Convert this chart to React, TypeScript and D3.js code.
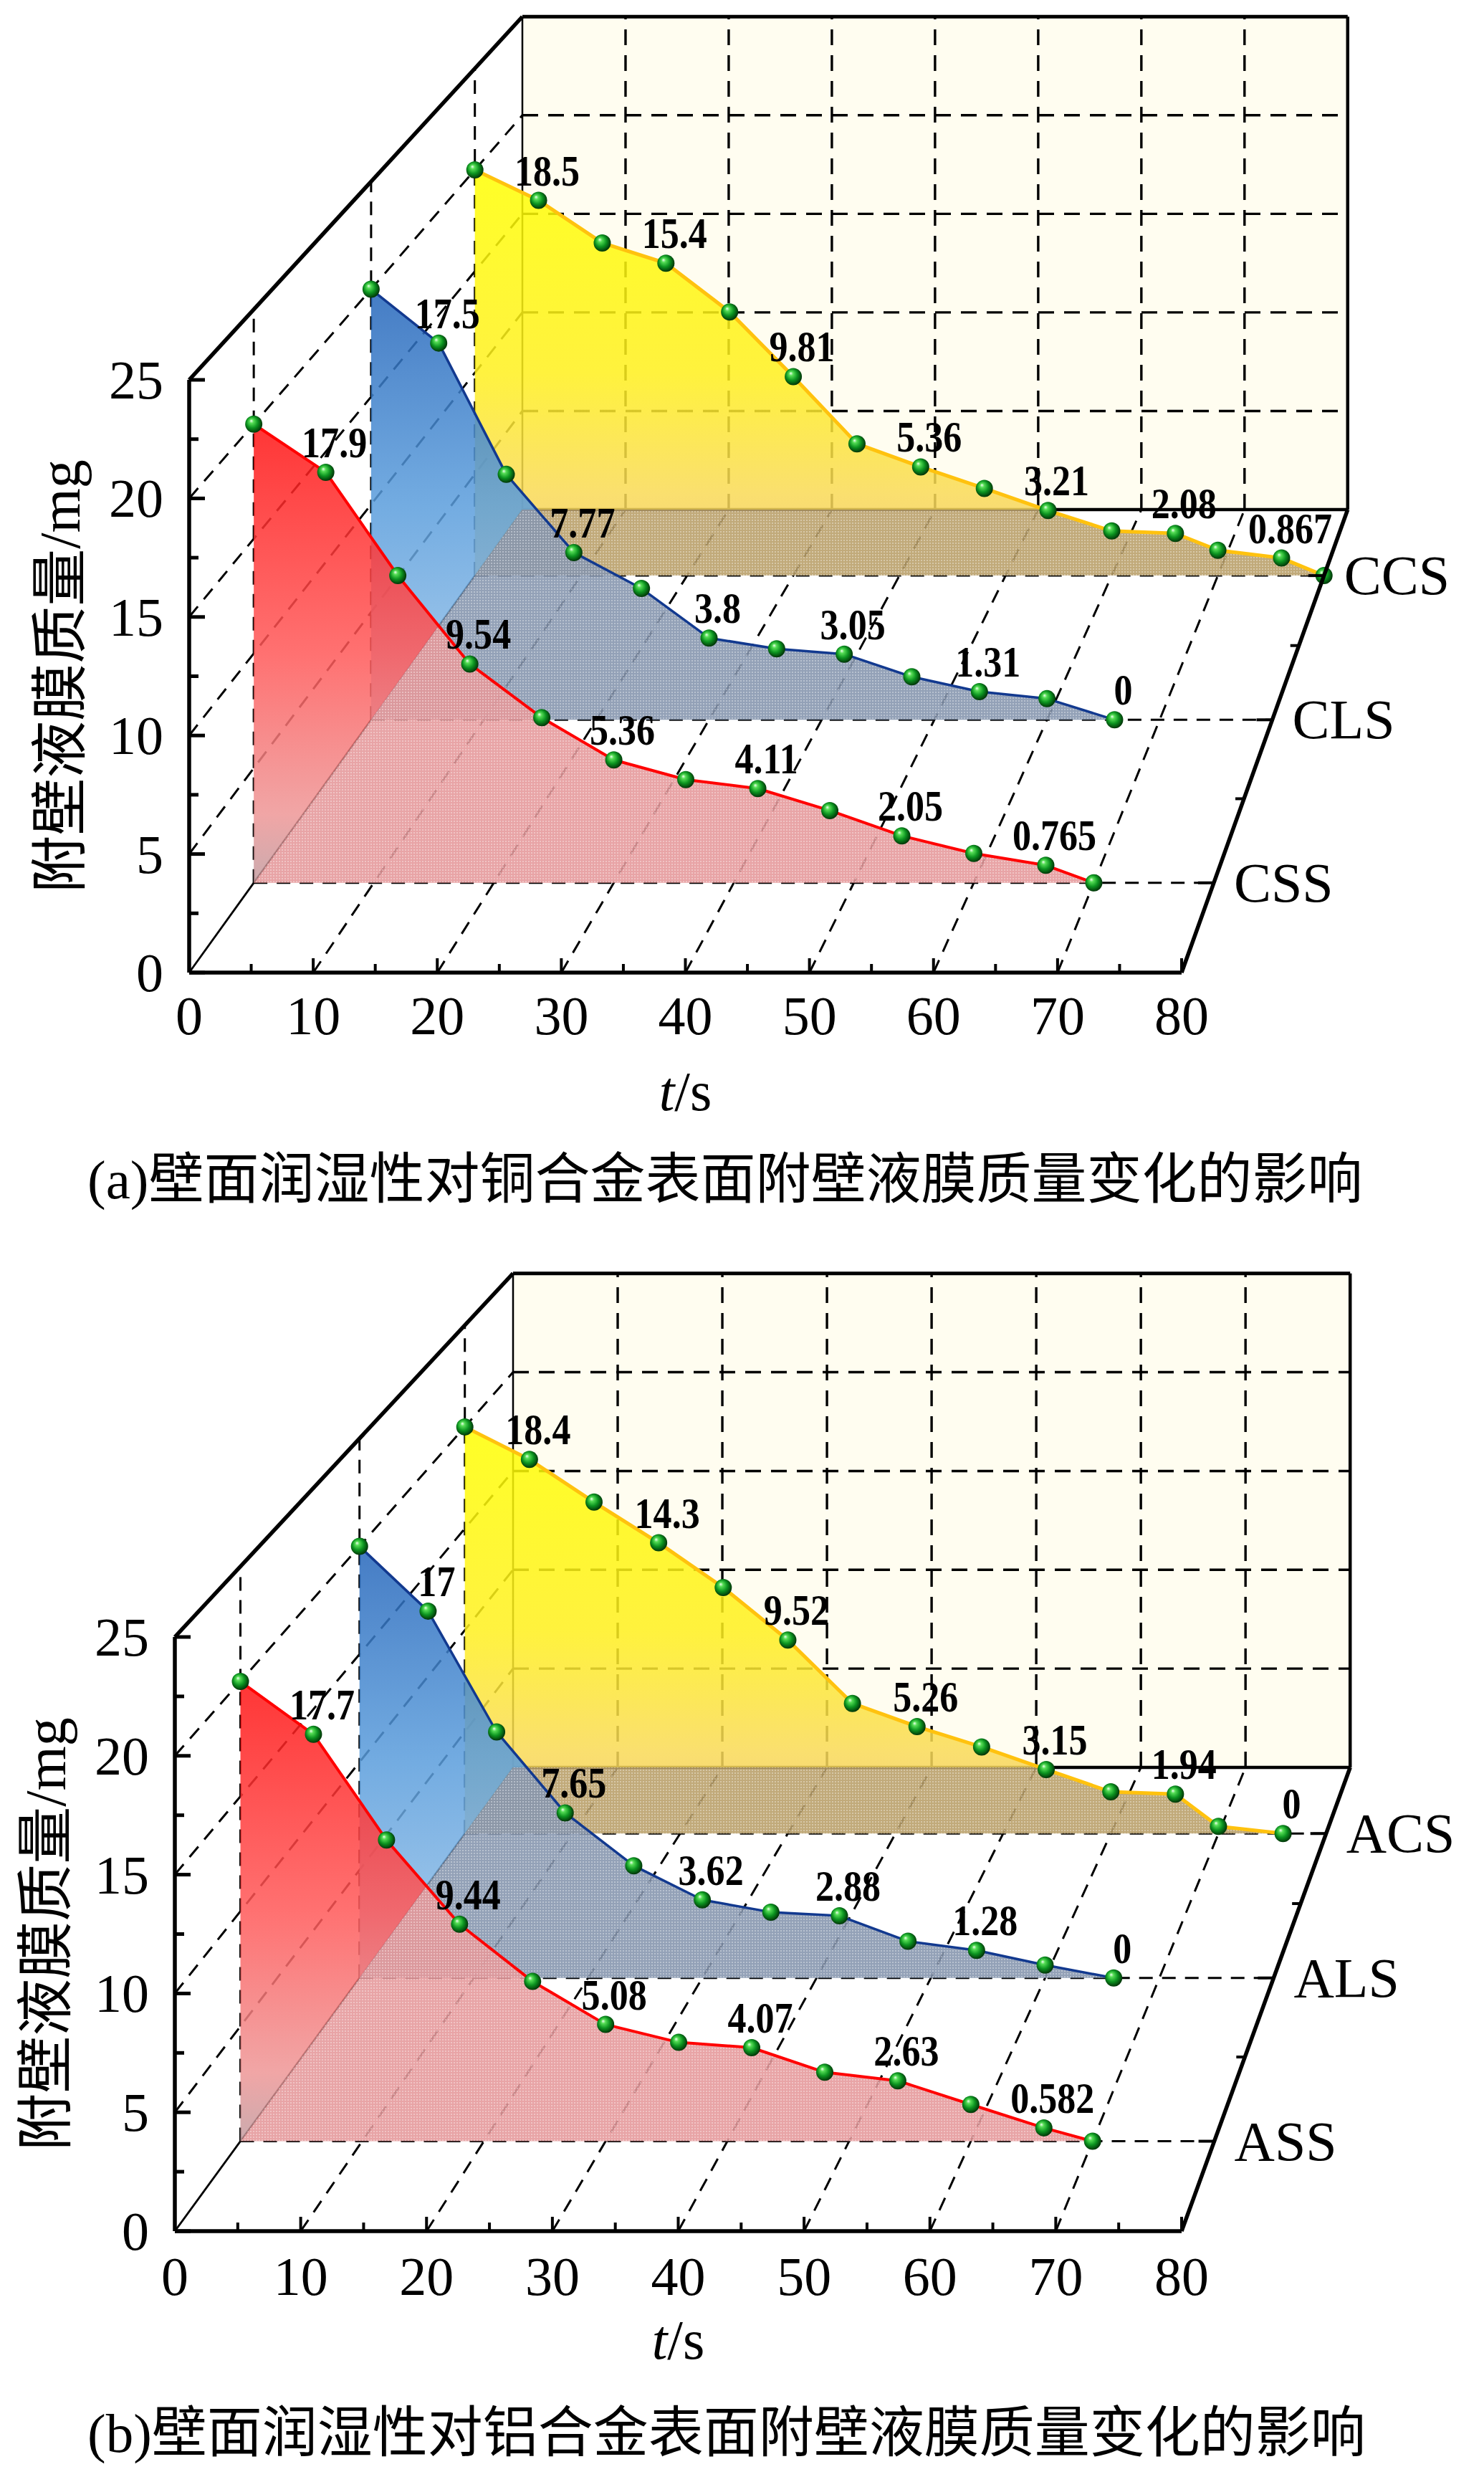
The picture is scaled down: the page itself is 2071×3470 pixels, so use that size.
import React from "react";
import * as d3 from "d3";

const W = 2071;
const H = 3470;

// (a) 铜合金
const seriesA = ["CSS", "CLS", "CCS"];
const timeA_CSS = [0, 6, 12, 18, 24, 30, 36, 42, 48, 54, 60, 66, 70];
const timeA_CLS = [0, 6, 12, 18, 24, 30, 36, 42, 48, 54, 60, 66];
const timeA_CCS = [0, 6, 12, 18, 24, 30, 36, 42, 48, 54, 60, 66, 70, 76, 80];
const massA_CSS = [20, 17.9, 13.4, 9.54, 7.2, 5.36, 4.5, 4.11, 3.15, 2.05, 1.28, 0.765, 0];
const massA_CLS = [20, 17.5, 11.4, 7.77, 6.1, 3.8, 3.3, 3.05, 2.0, 1.31, 0.98, 0];
const massA_CCS = [20, 18.5, 16.4, 15.4, 13.0, 9.81, 6.5, 5.36, 4.3, 3.21, 2.2, 2.08, 1.25, 0.867, 0];

// (b) 铝合金
const seriesB = ["ASS", "ALS", "ACS"];
const timeB_ASS = [0, 6, 12, 18, 24, 30, 36, 42, 48, 54, 60, 66, 70];
const timeB_ALS = [0, 6, 12, 18, 24, 30, 36, 42, 48, 54, 60, 66];
const timeB_ACS = [0, 6, 12, 18, 24, 30, 36, 42, 48, 54, 60, 66, 70, 76];
const massB_ASS = [20, 17.7, 13.1, 9.44, 6.95, 5.08, 4.3, 4.07, 3.0, 2.63, 1.6, 0.582, 0];
const massB_ALS = [20, 17, 11.4, 7.65, 5.2, 3.62, 3.05, 2.88, 1.7, 1.28, 0.6, 0];
const massB_ACS = [20, 18.4, 16.3, 14.3, 12.1, 9.52, 6.4, 5.26, 4.26, 3.15, 2.05, 1.94, 0.35, 0];

const xTicks = [0, 10, 20, 30, 40, 50, 60, 70, 80];
const yTicks = [0, 5, 10, 15, 20, 25];
const yTitle = "附壁液膜质量/mg";
const captionA = "(a)壁面润湿性对铜合金表面附壁液膜质量变化的影响";
const captionB = "(b)壁面润湿性对铝合金表面附壁液膜质量变化的影响";

const SERIF = "'Liberation Serif', 'Times New Roman', serif";
const CJK = "'Liberation Serif', 'Noto Sans CJK SC', serif";

// front-to-back styles: red, blue, yellow
const wallStyles = [
  {
    stops: [["0", "#FF1212"], ["0.5", "#FF5858"], ["0.85", "#EE9696"], ["1", "#C29CA0"]],
    floor: "#E5979A",
    line: "#FF0000",
    lw: 4,
  },
  {
    stops: [["0", "#2465BA"], ["0.5", "#5A9DDC"], ["1", "#9CC6EA"]],
    floor: "#8494AD",
    line: "#12398F",
    lw: 3.5,
  },
  {
    stops: [["0", "#FFFF00"], ["0.5", "#FFF01E"], ["0.8", "#F9DA58"], ["1", "#EDC46A"]],
    floor: "#B89E68",
    line: "#FFC20E",
    lw: 5,
  },
];

type Rect = { left: number; right: number; bottom: number; top: number };
interface Frame {
  front: Rect;
  back: Rect;
  tickLabelY: number;
  tTitleY: number;
  captionY: number;
}

const frameA: Frame = {
  front: { left: 264, right: 1649, bottom: 1357, top: 530 },
  back: { left: 729, right: 1882, bottom: 711, top: 24 },
  tickLabelY: 1443,
  tTitleY: 1549,
  captionY: 1672,
};
const frameB: Frame = {
  front: { left: 244, right: 1649, bottom: 3113, top: 2284 },
  back: { left: 716, right: 1883, bottom: 2466, top: 1776 },
  tickLabelY: 3202,
  tTitleY: 3291,
  captionY: 3421,
};

interface PanelProps {
  id: string;
  frame: Frame;
  names: string[];
  times: number[][];
  values: number[][];
  caption: string;
}

const Panel: React.FC<PanelProps> = ({ id, frame, names, times, values, caption }) => {
  const { front, back } = frame;
  const xScale = d3.scaleLinear().domain([0, 80]).range([front.left, front.right]);
  const yScale = d3.scaleLinear().domain([0, 25]).range([front.bottom, front.top]);
  const zScale = d3.scaleBand().domain(names).range([0, 1]);
  const zOf = (n: string) => (zScale(n) ?? 0) + zScale.bandwidth() / 2;

  // simple perspective toward a vanishing point
  const sx = (back.right - back.left) / (front.right - front.left);
  const sy = (back.bottom - back.top) / (front.bottom - front.top);
  const sb = (sx + sy) / 2;
  const vpx = (back.left - front.left * sb) / (1 - sb);
  const vpy = (back.bottom - front.bottom * sb) / (1 - sb);
  const k = 1 / sb - 1;
  const P = (t: number, v: number, z: number): [number, number] => {
    const s = 1 / (1 + k * z);
    return [vpx + (xScale(t) - vpx) * s, vpy + (yScale(v) - vpy) * s];
  };
  const seg = (a: [number, number], b: [number, number]) => `M${a[0]},${a[1]}L${b[0]},${b[1]}`;
  const poly = (pts: [number, number][]) => "M" + pts.map((p) => p.join(",")).join("L") + "Z";

  const floorQuad = poly([P(0, 0, 0), P(80, 0, 0), P(80, 0, 1), P(0, 0, 1)]);
  const line = d3.line<[number, number]>();

  const dash = { stroke: "#000", strokeWidth: 3.4, strokeDasharray: "22 14", fill: "none" };
  const gridBack: string[] = [];
  xTicks.slice(1, -1).forEach((t) => gridBack.push(seg(P(t, 0, 1), P(t, 25, 1))));
  yTicks.slice(1, -1).forEach((v) => gridBack.push(seg(P(0, v, 1), P(80, v, 1))));
  const gridSide: string[] = [];
  yTicks.slice(1, -1).forEach((v) => gridSide.push(seg(P(0, v, 0), P(0, v, 1))));
  names.forEach((n) => gridSide.push(seg(P(0, 0, zOf(n)), P(0, 25, zOf(n)))));
  xTicks.slice(1, -1).forEach((t) => gridSide.push(seg(P(t, 0, 0), P(t, 0, 1))));
  names.forEach((n) => gridSide.push(seg(P(0, 0, zOf(n)), P(80, 0, zOf(n)))));

  const minorY = d3.range(0, 25.01, 2.5);
  const minorX = d3.range(0, 80.01, 5);
  const depthTicks = [1 / 6, 1 / 3, 1 / 2, 2 / 3, 5 / 6];

  const order = [2, 1, 0];
  const ax = front.left;
  const ay = front.bottom;

  return (
    <g>
      <defs>
        <clipPath id={`${id}-floor`}>
          <path d={floorQuad} />
        </clipPath>
        <clipPath id={`${id}-wall`}>
          <path d={`M0,0H${W}V${H}H0Z ` + floorQuad} clipRule="evenodd" />
        </clipPath>
        {names.map((n, i) => (
          <linearGradient
            key={n}
            id={`${id}-g${i}`}
            gradientUnits="userSpaceOnUse"
            x1={0}
            x2={0}
            y1={P(0, 20, zOf(n))[1]}
            y2={P(0, 0, zOf(n))[1]}
          >
            {wallStyles[i].stops.map(([o, c]) => (
              <stop key={o} offset={o} stopColor={c} />
            ))}
          </linearGradient>
        ))}
      </defs>

      {/* back wall */}
      <path d={poly([P(0, 0, 1), P(80, 0, 1), P(80, 25, 1), P(0, 25, 1)])} fill="#FFFDF0" />
      <path d={gridBack.join("")} {...dash} />
      <path d={gridSide.join("")} {...dash} strokeWidth={3} strokeDasharray="19 13" />
      <path d={seg(P(0, 0, 1), P(80, 0, 1))} stroke="#000" strokeWidth={4.5} />
      <path d={seg(P(0, 0, 1), P(0, 25, 1))} stroke="#000" strokeWidth={2.5} />
      <path d={seg(P(0, 0, 0), P(0, 0, 1))} stroke="#000" strokeWidth={2.8} />

      {/* walls */}
      {order.map((i) => {
        const z = zOf(names[i]);
        const ts = times[i];
        const pts = ts.map((t, j) => P(t, values[i][j], z));
        const face = poly([P(ts[0], 0, z), ...pts, P(ts[ts.length - 1], 0, z)]);
        const st = wallStyles[i];
        return (
          <g key={names[i]}>
            <path d={face} fill={`url(#${id}-g${i})`} fillOpacity={0.85} clipPath={`url(#${id}-wall)`} />
            <path d={face} fill={st.floor} fillOpacity={0.88} clipPath={`url(#${id}-floor)`} />
            <path d={face} fill="url(#dots)" clipPath={`url(#${id}-floor)`} />
            <path d={line(pts) ?? ""} fill="none" stroke={st.line} strokeWidth={st.lw} strokeLinejoin="round" />
            {pts.map((p, j) => (
              <circle key={j} cx={p[0]} cy={p[1]} r={12} fill="url(#sphere)" />
            ))}
            {pts.map((p, j) =>
              j % 2 === 1 ? (
                <text
                  key={`l${j}`}
                  transform={`translate(${p[0] + 12},${p[1] - 21}) scale(0.84,1)`}
                  textAnchor="middle"
                  fontFamily={SERIF}
                  fontWeight="bold"
                  fontSize={62}
                  fill="#000"
                >
                  {String(values[i][j])}
                </text>
              ) : null
            )}
          </g>
        );
      })}

      {/* frame */}
      <path d={seg(P(0, 25, 1), P(80, 25, 1))} stroke="#000" strokeWidth={5} />
      <path d={seg(P(80, 0, 1), P(80, 25, 1))} stroke="#000" strokeWidth={4.5} />
      <path d={seg(P(0, 25, 0), P(0, 25, 1))} stroke="#000" strokeWidth={5.5} />
      <path d={seg(P(80, 0, 0), P(80, 0, 1))} stroke="#000" strokeWidth={5.5} />
      <path d={seg(P(0, 0, 0), P(0, 25, 0))} stroke="#000" strokeWidth={5.5} />
      <path d={seg(P(0, 0, 0), P(80, 0, 0))} stroke="#000" strokeWidth={5.5} />

      {/* ticks */}
      {minorY.map((v) => (
        <line
          key={`yt${v}`}
          x1={ax}
          x2={ax + (v % 5 === 0 ? 22 : 13)}
          y1={yScale(v)}
          y2={yScale(v)}
          stroke="#000"
          strokeWidth={5}
        />
      ))}
      {minorX.map((t) => (
        <line
          key={`xt${t}`}
          x1={xScale(t)}
          x2={xScale(t)}
          y1={ay}
          y2={ay - (t % 10 === 0 ? 20 : 12)}
          stroke="#000"
          strokeWidth={4}
        />
      ))}
      {depthTicks.map((z, j) => {
        const p = P(80, 0, z);
        return (
          <line key={`zt${j}`} x1={p[0]} x2={p[0] - (j % 2 === 0 ? 22 : 12)} y1={p[1]} y2={p[1]} stroke="#000" strokeWidth={4} />
        );
      })}

      {/* tick labels */}
      {yTicks.map((v) => (
        <text key={`yl${v}`} x={ax - 36} y={yScale(v) + 26} textAnchor="end" fontFamily={SERIF} fontSize={76}>
          {v}
        </text>
      ))}
      {xTicks.map((t) => (
        <text key={`xl${t}`} x={xScale(t)} y={frame.tickLabelY} textAnchor="middle" fontFamily={SERIF} fontSize={76}>
          {t}
        </text>
      ))}
      {names.map((n) => {
        const p = P(80, 0, zOf(n));
        return (
          <text key={`n${n}`} x={p[0] + 28} y={p[1] + 26} fontFamily={SERIF} fontSize={78}>
            {n}
          </text>
        );
      })}

      {/* titles */}
      <text
        transform={`translate(${ax - 153},${(front.top + front.bottom) / 2}) rotate(-90)`}
        textAnchor="middle"
        fontFamily={CJK}
        fontSize={80}
      >
        {yTitle}
      </text>
      <text x={xScale(40)} y={frame.tTitleY} textAnchor="middle" fontFamily={SERIF} fontSize={78}>
        <tspan fontStyle="italic">t</tspan>/s
      </text>
      <text x={122} y={frame.captionY} fontFamily={CJK} fontSize={77}>
        {caption}
      </text>
    </g>
  );
};

export default function App() {
  return (
    <svg
      width={W}
      height={H}
      viewBox={`0 0 ${W} ${H}`}
      style={{ position: "absolute", left: 0, top: 0, display: "block", background: "#fff" }}
    >
      <defs>
        <radialGradient id="sphere" cx="0.45" cy="0.45" r="0.55" fx="0.35" fy="0.3">
          <stop offset="0" stopColor="#F0FFF0" />
          <stop offset="0.22" stopColor="#55DD55" />
          <stop offset="0.6" stopColor="#0C9420" />
          <stop offset="1" stopColor="#013608" />
        </radialGradient>
        <pattern id="dots" width={4} height={4} patternUnits="userSpaceOnUse">
          <circle cx={2} cy={2} r={0.9} fill="#fff" fillOpacity={0.5} />
        </pattern>
      </defs>
      <rect width={W} height={H} fill="#fff" />
      <Panel
        id="pa"
        frame={frameA}
        names={seriesA}
        times={[timeA_CSS, timeA_CLS, timeA_CCS]}
        values={[massA_CSS, massA_CLS, massA_CCS]}
        caption={captionA}
      />
      <Panel
        id="pb"
        frame={frameB}
        names={seriesB}
        times={[timeB_ASS, timeB_ALS, timeB_ACS]}
        values={[massB_ASS, massB_ALS, massB_ACS]}
        caption={captionB}
      />
    </svg>
  );
}
